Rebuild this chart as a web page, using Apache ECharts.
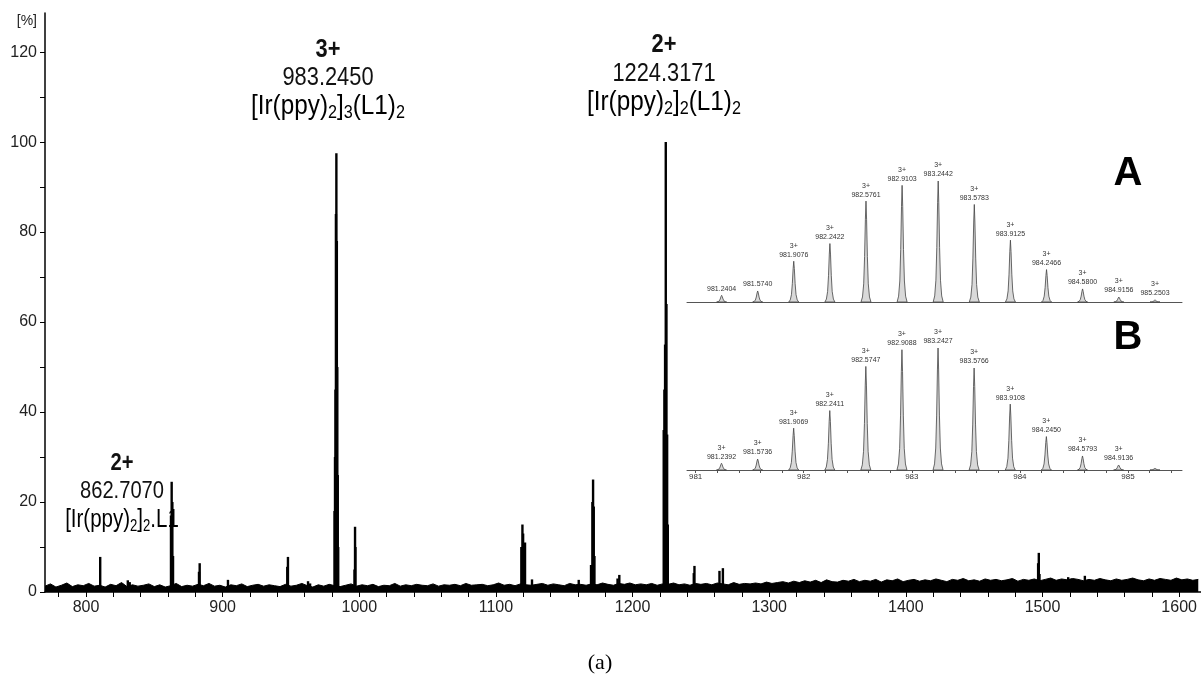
<!DOCTYPE html>
<html>
<head>
<meta charset="utf-8">
<script src="https://cdn.jsdelivr.net/npm/echarts@6/dist/echarts.min.js"></script>
<style>
html, body { margin: 0; padding: 0; background: #fff; }
#chart { width: 1201px; height: 675px; }
</style>
</head>
<body>
<div id="chart"></div>
<script>
'use strict';
// 主谱图刻度
var xTickLabels = [800, 900, 1000, 1100, 1200, 1300, 1400, 1500, 1600];
var xTickMarks = [780, 800, 820, 840, 860, 880, 900, 920, 940, 960, 980, 1000, 1020, 1040, 1060, 1080, 1100, 1120, 1140, 1160, 1180, 1200, 1220, 1240, 1260, 1280, 1300, 1320, 1340, 1360, 1380, 1400, 1420, 1440, 1460, 1480, 1500, 1520, 1540, 1560, 1580, 1600];
var yTickLabels = [0, 20, 40, 60, 80, 100, 120];
var yTickMarks = [0, 10, 20, 30, 40, 50, 60, 70, 80, 90, 100, 110, 120];

// 基线噪声 (每4个m/z一个值, 从770开始)
var noiseStart = 770;
var noiseStep = 4;
var noiseLevel = [
	1.3, 1.8, 1.1, 1.5, 2.0, 1.2, 1.6, 1.4, 1.9, 1.3,
	1.5, 1.1, 1.7, 1.4, 2.1, 1.2, 1.6, 1.3, 1.5, 1.8,
	1.2, 1.6, 1.1, 1.4, 1.9, 1.2, 1.5, 1.3, 1.7, 1.4,
	1.9, 1.3, 1.5, 1.1, 1.6, 1.4, 1.8, 1.2, 1.5, 1.7,
	1.3, 1.6, 1.4, 1.2, 1.7, 1.3, 1.5, 1.9, 1.4, 1.1,
	1.6, 1.3, 1.7, 1.4, 1.2, 1.5, 1.8, 1.3, 1.6, 1.4,
	1.7, 1.2, 1.5, 1.4, 1.9, 1.3, 1.6, 1.4, 1.7, 1.5,
	1.4, 1.8, 1.3, 1.6, 1.5, 1.7, 1.4, 1.9, 1.5, 1.6,
	1.7, 1.4, 1.6, 2.0, 1.5, 1.7, 1.4, 1.8, 1.6, 1.5,
	1.7, 1.9, 1.5, 1.8, 1.6, 1.4, 1.9, 1.6, 1.7, 1.5,
	1.8, 1.6, 2.0, 1.7, 1.5, 1.9, 1.7, 2.0, 1.6, 1.8,
	1.6, 1.9, 1.5, 1.8, 1.7, 2.0, 1.6, 1.8, 1.5, 1.9,
	1.7, 1.9, 1.6, 2.0, 1.8, 1.6, 2.1, 1.7, 1.9, 1.8,
	2.0, 1.8, 2.2, 1.9, 2.1, 2.3, 2.0, 2.4, 2.1, 2.5,
	2.2, 2.6, 2.1, 2.7, 2.3, 2.2, 2.6, 2.4, 2.8, 2.3,
	2.6, 2.4, 2.8, 2.2, 2.7, 2.5, 2.9, 2.3, 2.6, 2.8,
	2.4, 2.7, 2.5, 2.9, 2.6, 2.3, 2.8, 2.6, 3.0, 2.5,
	2.7, 2.4, 2.9, 2.6, 2.8, 2.5, 2.7, 3.0, 2.4, 2.8,
	2.6, 2.9, 2.5, 2.8, 3.1, 2.6, 2.9, 2.7, 3.0, 2.8,
	2.5, 2.8, 2.6, 3.0, 2.7, 2.5, 2.9, 2.6, 2.8, 3.1,
	2.7, 2.5, 2.9, 2.6, 3.0, 2.8, 2.6, 3.1, 2.7, 2.9,
	2.6, 2.8
];

// 主峰 (m/z, 相对强度%)
var peakMz = [
	810.4, 830.6, 832.0,
	862.2, 862.7, 863.2, 863.7,
	882.7, 883.2, 903.9, 947.3, 947.8, 962.5, 964.0,
	981.9, 982.24, 982.58, 982.91, 983.24, 983.58, 983.91, 984.25, 984.58,
	996.5, 996.9, 997.2,
	1118.6, 1119.4, 1119.9, 1121.3, 1126.4, 1160.6,
	1169.6, 1170.6, 1171.1, 1171.6, 1172.1,
	1189.0, 1190.3,
	1222.8, 1223.3, 1223.8, 1224.3, 1224.8, 1225.3, 1225.8,
	1244.8, 1245.3, 1263.6, 1266.1,
	1496.8, 1497.3, 1497.8, 1518.8, 1531.0
];
var peakHeight = [
	7.8, 2.6, 2.2,
	17, 24.5, 20, 8,
	4.5, 6.4, 2.7, 5.6, 7.8, 2.4, 1.9,
	18, 30, 45, 84, 97.5, 78, 50, 26, 10,
	5, 14.5, 10,
	10, 15, 13, 11, 2.8, 2.7,
	6, 20, 25, 19, 8,
	3, 3.8,
	36, 45, 55, 100, 64, 35, 15,
	4.2, 5.8, 4.7, 5.3,
	6.4, 8.7, 4, 3.3, 3.6
];

// 插图 A / B 同位素峰
var isoRange = [980.92, 985.5];
var isoMzA = [981.2404, 981.5740, 981.9076, 982.2422, 982.5761, 982.9103, 983.2442, 983.5783, 983.9125, 984.2466, 984.5800, 984.9156, 985.2503];
var isoHeightA = [5.5, 9.1, 33.7, 48.3, 83.4, 96.4, 100, 80.6, 51.1, 26.8, 10.8, 4.1, 1.7];
var isoLabelA = ['981.2404', '981.5740', '3+\n981.9076', '3+\n982.2422', '3+\n982.5761', '3+\n982.9103', '3+\n983.2442', '3+\n983.5783', '3+\n983.9125', '3+\n984.2466', '3+\n984.5800', '3+\n984.9156', '3+\n985.2503'];
var isoMzB = [981.2392, 981.5736, 981.9069, 982.2411, 982.5747, 982.9088, 983.2427, 983.5766, 983.9108, 984.2450, 984.5793, 984.9136, 985.2500];
var isoHeightB = [5.5, 9.0, 34.3, 48.7, 84.9, 98.6, 100, 83.6, 54, 27.4, 11.5, 4.1, 1.4];
var isoLabelB = ['3+\n981.2392', '3+\n981.5736', '3+\n981.9069', '3+\n982.2411', '3+\n982.5747', '3+\n982.9088', '3+\n983.2427', '3+\n983.5766', '3+\n983.9108', '3+\n984.2450', '3+\n984.5793', '3+\n984.9136', ''];
var isoTickLabels = [981, 982, 983, 984, 985];
var isoTickMarks = [981, 981.2, 981.4, 981.6, 981.8, 982, 982.2, 982.4, 982.6, 982.8, 983, 983.2, 983.4, 983.6, 983.8, 984, 984.2, 984.4, 984.6, 984.8, 985, 985.2, 985.4];

var noiseData = noiseLevel.map(function(v, i) {
	return [noiseStart + i * noiseStep, v];
});
var peakData = peakMz.map(function(m, i) {
	return [m, peakHeight[i]];
});

// 峰形 (像素偏移, 相对高度)
var peakShape = [[-5, 0], [-3.5, 0.05], [-2.3, 0.18], [-1.4, 0.45], [-0.6, 0.82], [0, 1], [0.6, 0.82], [1.4, 0.45], [2.3, 0.18], [3.5, 0.05], [5, 0]];

function stickRenderer(w) {
	return function(params, api) {
		var base = api.coord([api.value(0), 0]);
		var top = api.coord([api.value(0), api.value(1)]);
		return {
			type: 'rect',
			shape: { x: base[0] - w / 2, y: top[1], width: w, height: base[1] - top[1] },
			style: { fill: '#000' }
		};
	};
}

function isoRenderer(labels) {
	return function(params, api) {
		var base = api.coord([api.value(0), 0]);
		var top = api.coord([api.value(0), api.value(1)]);
		var h = base[1] - top[1];
		var pts = peakShape.map(function(p) {
			return [base[0] + p[0], base[1] - p[1] * h];
		});
		return {
			type: 'group',
			children: [{
				type: 'polygon',
				shape: { points: pts },
				style: { fill: '#d9d9d9', stroke: '#444', lineWidth: 0.8 }
			}, {
				type: 'text',
				style: {
					text: labels[params.dataIndex],
					x: top[0],
					y: top[1] - 2,
					align: 'center',
					verticalAlign: 'bottom',
					fontSize: 7,
					lineHeight: 9,
					fontFamily: 'Liberation Sans, Arial, sans-serif',
					fill: '#333'
				}
			}]
		};
	};
}

var FONT = 'Liberation Sans, Arial, sans-serif';

function annot(x, y, txt, size, bold, sx) {
	return {
		type: 'text',
		x: x,
		y: y,
		scaleX: sx,
		style: {
			text: txt,
			align: 'center',
			verticalAlign: 'middle',
			fontSize: size,
			fontWeight: bold ? 'bold' : 'normal',
			fontFamily: FONT,
			fill: '#111'
		}
	};
}
function formula(x, y, txt, size, sx) {
	return {
		type: 'text',
		x: x,
		y: y,
		scaleX: sx,
		style: {
			text: txt,
			align: 'center',
			verticalAlign: 'middle',
			rich: {
				n: { fontSize: size, lineHeight: size + 4, fontFamily: FONT, color: '#111' },
				s: { fontSize: Math.round(size * 0.65), lineHeight: Math.round(size * 0.55), verticalAlign: 'bottom', fontFamily: FONT, color: '#111' }
			}
		}
	};
}

var chart = echarts.init(document.getElementById('chart'));
var option = {
	animation: false,
	backgroundColor: '#fff',
	grid: [
		{ left: 45, right: 0, top: 13, bottom: 83 },
		{ left: 687, right: 19, top: 181, height: 121 },
		{ left: 687, right: 19, top: 348, height: 122 }
	],
	xAxis: [{
		type: 'value', gridIndex: 0, min: 770, max: 1616,
		axisLine: { lineStyle: { color: '#000', width: 1.5 } },
		axisTick: { customValues: xTickMarks, length: 5, lineStyle: { color: '#000' } },
		axisLabel: {
			customValues: xTickLabels, fontSize: 16, color: '#222', margin: 8, fontFamily: FONT,
			formatter: function(v) { return String(v); }
		},
		splitLine: { show: false }
	}, {
		type: 'value', gridIndex: 1, min: isoRange[0], max: isoRange[1],
		axisLine: { lineStyle: { color: '#555', width: 1 } },
		axisTick: { show: false }, axisLabel: { show: false }, splitLine: { show: false }
	}, {
		type: 'value', gridIndex: 2, min: isoRange[0], max: isoRange[1],
		axisLine: { lineStyle: { color: '#555', width: 1 } },
		axisTick: { customValues: isoTickMarks, length: 3, lineStyle: { color: '#555' } },
		axisLabel: { customValues: isoTickLabels, fontSize: 8, color: '#333', margin: 3, formatter: function(v) { return String(v); } },
		splitLine: { show: false }
	}],
	yAxis: [{
		type: 'value', gridIndex: 0, min: 0, max: 128.7,
		name: '[%]', nameLocation: 'end', nameGap: -15,
		nameTextStyle: { align: 'right', padding: [0, 8, 0, 0], fontSize: 14, color: '#222' },
		axisLine: { show: true, lineStyle: { color: '#000', width: 1.5 } },
		axisTick: { show: true, customValues: yTickMarks, length: 5, lineStyle: { color: '#000' } },
		axisLabel: { customValues: yTickLabels, fontSize: 16, color: '#222', margin: 8, fontFamily: FONT },
		splitLine: { show: false }
	}, {
		type: 'value', gridIndex: 1, min: 0, max: 100, show: false
	}, {
		type: 'value', gridIndex: 2, min: 0, max: 100, show: false
	}],
	series: [{
		type: 'line', xAxisIndex: 0, yAxisIndex: 0,
		data: noiseData, symbol: 'none', silent: true,
		lineStyle: { color: '#000', width: 1 },
		areaStyle: { color: '#000', opacity: 1 }
	}, {
		type: 'custom', xAxisIndex: 0, yAxisIndex: 0,
		data: peakData, silent: true,
		renderItem: stickRenderer(2.4)
	}, {
		type: 'custom', xAxisIndex: 1, yAxisIndex: 1, silent: true,
		data: isoMzA.map(function(m, i) { return [m, isoHeightA[i]]; }),
		renderItem: isoRenderer(isoLabelA)
	}, {
		type: 'custom', xAxisIndex: 2, yAxisIndex: 2, silent: true,
		data: isoMzB.map(function(m, i) { return [m, isoHeightB[i]]; }),
		renderItem: isoRenderer(isoLabelB)
	}],
	graphic: [
		annot(122, 463, '2+', 24, true, 0.84),
		annot(122, 491, '862.7070', 24, false, 0.84),
		formula(122, 520, '{n|[Ir(ppy)}{s|2}{n|]}{s|2}{n|.L1}', 25, 0.82),
		annot(328, 50, '3+', 26, true, 0.84),
		annot(328, 78, '983.2450', 26, false, 0.84),
		formula(328, 107, '{n|[Ir(ppy)}{s|2}{n|]}{s|3}{n|(L1)}{s|2}', 27, 0.9),
		annot(664, 45, '2+', 26, true, 0.84),
		annot(664, 74, '1224.3171', 26, false, 0.84),
		formula(664, 103, '{n|[Ir(ppy)}{s|2}{n|]}{s|2}{n|(L1)}{s|2}', 27, 0.9),
		{ type: 'text', x: 1128, y: 174, style: { text: 'A', fontSize: 40, fontWeight: 'bold', fontFamily: FONT, fill: '#000', align: 'center', verticalAlign: 'middle' } },
		{ type: 'text', x: 1128, y: 338, style: { text: 'B', fontSize: 40, fontWeight: 'bold', fontFamily: FONT, fill: '#000', align: 'center', verticalAlign: 'middle' } },
		{ type: 'text', x: 600, y: 663, style: { text: '(a)', fontSize: 22, fontFamily: 'Liberation Serif, Times New Roman, serif', fill: '#000', align: 'center', verticalAlign: 'middle' } }
	]
};
chart.setOption(option);
window.addEventListener('resize', function() {
	chart.resize();
});
</script>
</body>
</html>
